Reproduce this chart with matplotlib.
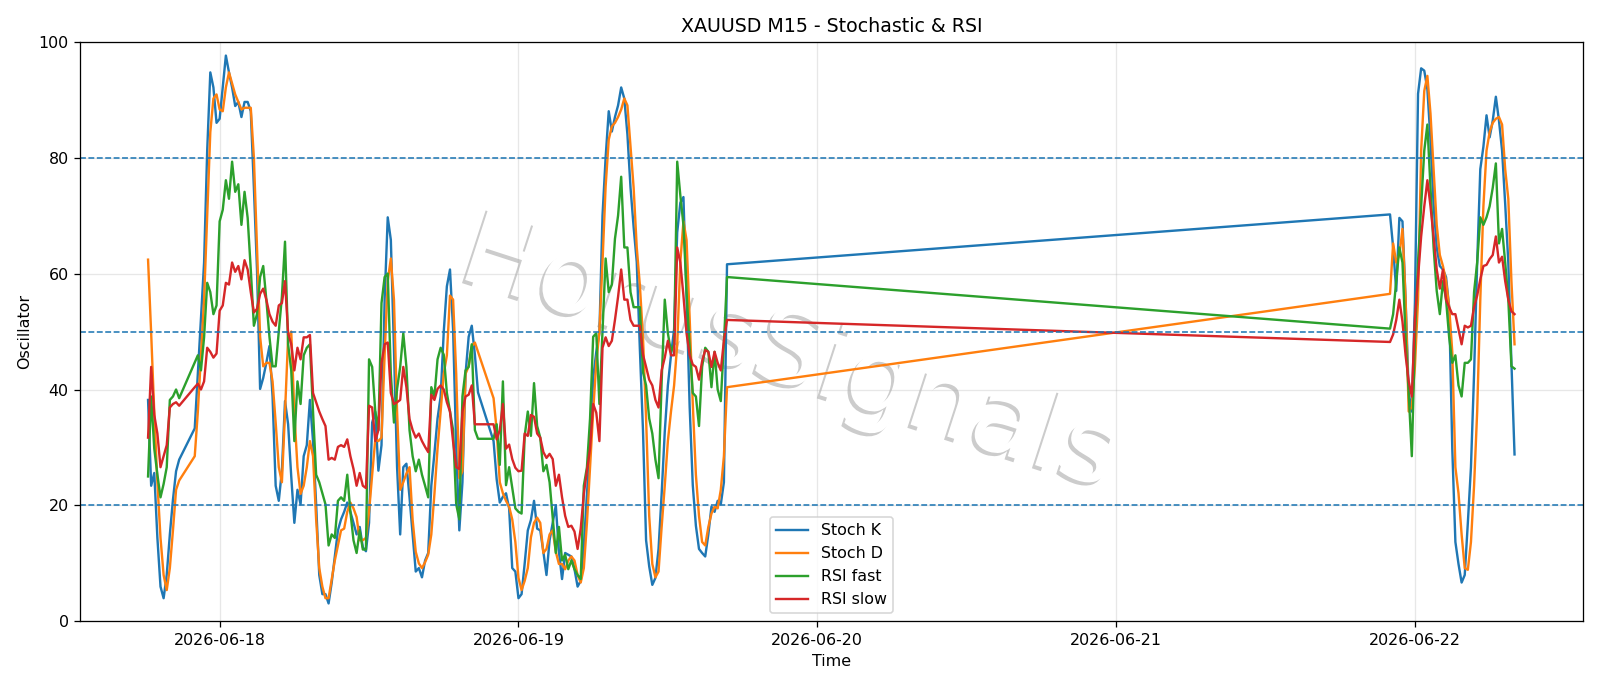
import matplotlib
matplotlib.use("Agg")
import matplotlib.pyplot as plt
import matplotlib.dates as mdates
import matplotlib.patheffects as pe
import pandas as pd

# M15 bars: each trading session is a run of consecutive 15-minute bars
session_starts = ["2026-06-17 18:15", "2026-06-17 22:00", "2026-06-18 22:00", "2026-06-21 22:00"]
session_bars = [11, 92, 76, 41]

stoch_k = [
    38.2, 23.4, 25.6, 14.4, 6, 4, 8, 15, 21, 25.9, 27.9,
    33.3, 42.7, 52.3, 61.9, 81.2, 94.7, 92.1, 86, 86.7, 92.1, 97.6, 94.7, 92.1, 88.9, 89.6, 87,
    89.6, 89.6, 88, 74.8, 60.7, 40.1, 42, 44.6, 47.5, 38.8, 23.4, 20.8, 26, 38, 34, 25,
    17, 22.7, 20.2, 28.5, 30.4, 38.2, 31.1, 20.2, 8, 4.7, 4.7, 3.1, 6.7, 11.2, 15.7, 17.6,
    18.9, 20.5, 18.9, 17, 15, 16.3, 12.8, 12.1, 17, 34.3, 36.2, 26, 30.4, 55.5, 69.7, 65.8,
    47, 26.6, 15, 26.6, 27.2, 21.4, 15, 8.6, 9.2, 7.6, 10.5, 11.8, 23.4, 29, 35, 38.8,
    50, 57.8, 60.7, 50.3, 30, 15.7, 24, 42.7, 49.1, 51, 46, 39.5,
    31.1, 24.5, 20.5, 21.5, 22.1, 19.5, 9.2, 8.6, 4, 4.7, 10, 15.7, 17.5, 20.8, 16, 15.7,
    12, 8, 14, 17, 20, 12, 7.3, 11.8, 11.5, 11.2, 9, 6, 7, 13, 22, 30,
    42, 46.5, 49.7, 70, 80, 88, 84.5, 87, 89, 92.1, 90.2, 84, 74.8, 68, 62, 47,
    33, 14, 9.5, 6.3, 7.5, 12.5, 22, 32.7, 40.7, 45.9, 50.4, 67.1, 72.2, 73.2, 56, 37,
    23.5, 16.5, 12.5, 11.8, 11.2, 15, 19.8, 18.9, 20.8, 20.2, 24, 61.6,
    70.2, 64.5, 57, 69.6, 69, 55.5, 39.4, 36.2, 55, 91, 95.4, 95, 91.8, 83.1, 71.9, 64.5,
    61.3, 60.7, 59.4, 54.2, 29.8, 13.7, 9.9, 6.7, 8, 17, 26.6, 42.7, 61.9, 78, 81.9, 87.3,
    83.5, 86.4, 90.5, 86.4, 81.2, 72, 61.9, 44.6, 28.8,
]
stoch_d = [
    62.4, 49.7, 36, 24, 14.4, 8, 5.4, 9.2, 15.7, 22.7, 24.3,
    28.5, 36.2, 45.9, 55.5, 69.7, 84.4, 90.2, 90.9, 88.3, 88, 92.1, 94.7, 92.8, 90.9, 89.6, 88.3,
    88.6, 88.6, 88.6, 80, 64.5, 49.1, 44, 44.6, 44.6, 41.4, 34.3, 26.6, 24, 36, 49, 50,
    36, 26.6, 22, 23.4, 26.6, 31.1, 28.5, 17.6, 9.2, 6, 4, 4, 7.3, 10.5, 13.1, 15.7,
    16, 18.9, 20.5, 19.5, 18, 14, 14, 14.4, 18.9, 25.3, 31.4, 31.1, 31.7, 45.9, 58.7, 62.6,
    55.5, 36.2, 22.7, 24, 25.5, 26.6, 17.5, 12, 10, 9.2, 10.2, 11.5, 15, 22, 29.8, 36.2,
    42.7, 45.9, 56.2, 55.5, 42.7, 24.7, 25.9, 42.7, 44, 47.5, 48.1, 46.5,
    38.5, 33, 24, 22.1, 20.8, 19.8, 17.6, 13.7, 7.5, 5.4, 7, 9.2, 14.5, 17, 17.9, 17,
    11.8, 12.5, 15, 15.7, 12, 9.9, 9.9, 9, 10.5, 11.2, 10.5, 8, 6.7, 9.2, 17, 26.6,
    36.2, 44.6, 50, 62, 75, 83.1, 85.4, 86, 87, 88.3, 90.2, 89, 82, 74.8, 64.5, 58,
    49, 35, 18.2, 9.9, 7.6, 8.6, 16.3, 23.4, 31.1, 36.2, 40.7, 47.8, 62, 69, 65.8, 52.3,
    37.5, 25.3, 18.2, 13.7, 13.1, 16.3, 18.6, 19.8, 19.5, 22.7, 28.5, 40.4,
    56.5, 65.2, 61.9, 63.2, 67.7, 55.5, 36.2, 37, 44, 55.5, 81.2, 91.5, 94.1, 87.6, 78, 68.4,
    63.2, 61.3, 58.7, 54.2, 46.5, 26.6, 22.1, 15, 9.2, 8.9, 13.7, 23.4, 36.2, 55.5, 71.6, 81.2,
    84.4, 86, 86.7, 87, 85.7, 78, 72.9, 58.7, 47.8,
]
rsi_fast = [
    25, 38.8, 29.8, 25.3, 21.4, 23.7, 26.6, 38.2, 38.8, 40, 38.5,
    44.7, 45.9, 43.3, 49, 58.4, 56.8, 53, 54.5, 69, 71, 76.1, 72.9, 79.3, 74.1, 75.4, 68.4,
    74.1, 69.6, 60.7, 51, 53, 59.4, 61.3, 55.5, 49.1, 44, 44, 50, 56, 65.5, 47.8, 43.3,
    31.1, 41.4, 37.5, 45.9, 47.2, 47.8, 36.2, 25.3, 24, 22.1, 20.2, 13.1, 15, 14.4, 20.8, 21.4,
    20.8, 25.3, 18.9, 14, 11.8, 15.7, 12.4, 12.4, 45.2, 43.9, 36.2, 33, 54.9, 59.4, 60, 42.7,
    34.3, 40.1, 43.9, 49.7, 43.9, 33, 28.5, 25.9, 27.9, 25.3, 23.4, 21.4, 40.4, 38.8, 45.2, 47.2,
    46, 39.4, 36.2, 33, 20.2, 17.6, 38.8, 43.3, 43.9, 47.8, 33, 31.5,
    31.5, 34, 27, 41.4, 23.5, 26.6, 23, 19.5, 18.9, 18.6, 32, 36.2, 32, 41.1, 33.7, 31.7,
    25.9, 27, 24, 18, 11.8, 16.3, 10.5, 11.5, 9, 10.5, 9, 8, 7.3, 23.4, 26.6, 35,
    49.1, 49.7, 37.5, 50, 62.6, 56.8, 58.1, 66, 70, 76.7, 64.5, 64.5, 56.8, 54.2, 54.2, 54.2,
    43, 40.7, 35, 32.4, 27.9, 24.7, 41.4, 55.5, 49.7, 46.5, 47.8, 79.3, 73.5, 68.4, 56.8, 47.2,
    39.4, 38.8, 33.7, 43.9, 47.2, 46.5, 40.4, 46.5, 40, 38, 48, 59.4,
    50.5, 53, 58.7, 64.5, 61.9, 49, 39.4, 28.5, 49.1, 62, 71.6, 81.2, 85.7, 74.8, 64.5, 57,
    53, 58.7, 55.5, 49, 44.6, 45.9, 40.7, 38.8, 44.6, 44.6, 45.2, 56.8, 61.9, 69.7, 68.4, 69.7,
    71.6, 74.8, 79, 65.2, 67.7, 61.9, 55.5, 44, 43.6,
]
rsi_slow = [
    31.7, 43.9, 35.6, 32.4, 26.6, 28.5, 30.4, 36.9, 37.5, 37.8, 37.2,
    40.4, 41, 40, 41.4, 47.2, 46.5, 45.5, 46.2, 53.6, 54.5, 58.4, 58.1, 61.9, 60.3, 61.3, 59,
    62.3, 60.7, 56.8, 53.3, 53.9, 56.5, 57.4, 55.5, 53, 51.7, 51, 54.5, 54.9, 58.7, 49.7, 47.8,
    43.3, 47.2, 45.2, 49, 49, 49.4, 39.4, 37.8, 36.2, 34.9, 33.7, 27.9, 28.2, 27.9, 30.1, 30.4,
    30.1, 31.4, 28.5, 26.3, 23.4, 25.6, 23.4, 23, 37.2, 36.9, 31.1, 33, 44.6, 47.8, 48.1, 39.4,
    37.5, 37.8, 38.2, 43.9, 40.4, 34.9, 33, 31.7, 32.4, 31.1, 30.1, 29.2, 39.1, 38.2, 40.1, 40.7,
    40, 37.8, 36.2, 31, 26.6, 26.3, 36.2, 38.8, 39.1, 40.7, 34, 34,
    34, 31.4, 33, 37.5, 29.8, 30.5, 28, 26.5, 25.9, 26, 32.4, 32, 35.6, 35.3, 32.4, 31.7,
    29.2, 28.2, 28.9, 28, 23.4, 25.3, 21.4, 18.2, 16.3, 16.5, 15.5, 12.5, 16, 22, 26, 29.8,
    37.5, 36, 31.1, 47.2, 49, 47.5, 48.4, 52, 56, 60.7, 55.5, 55.5, 52, 51, 51, 51,
    46, 43.9, 41.7, 40.7, 38.2, 36.9, 43.3, 45.5, 48.4, 45.9, 45.9, 64.5, 61.9, 56.2, 49.7, 45.9,
    44.3, 43.9, 41.7, 44.9, 46.8, 46.5, 43.9, 46.5, 44.6, 43.3, 48.4, 52,
    48.2, 49.5, 52, 55.5, 51.7, 45.9, 41.4, 38.8, 52.3, 59.4, 66.4, 71.6, 76.1, 71.6, 66.4, 60.7,
    57.4, 60.7, 55.5, 54.2, 53, 53, 50.4, 47.8, 51, 50.7, 51, 54.2, 56.2, 59, 61.3, 61.5,
    62.5, 63.2, 66.4, 61.9, 62.9, 58.7, 55.5, 53.5, 53,
]

levels = [20, 50, 80]

times = pd.DatetimeIndex([])
for start, n in zip(session_starts, session_bars):
    times = times.append(pd.date_range(start, periods=n, freq="15min"))

fig, ax = plt.subplots(figsize=(14, 6.0025), dpi=1600 / 14)

ax.plot(times, stoch_k, label="Stoch K", linewidth=1.5)
ax.plot(times, stoch_d, label="Stoch D", linewidth=1.5)
ax.plot(times, rsi_fast, label="RSI fast", linewidth=1.5)
ax.plot(times, rsi_slow, label="RSI slow", linewidth=1.5)
for lv in levels:
    ax.axhline(lv, linestyle="--", linewidth=1)

# watermark: white letters with a soft grey drop shadow
ax.text(0.472, 0.46, "HorusSignals", transform=ax.transAxes, fontsize=66,
        color="white", rotation=-18, ha="center", va="center", zorder=1,
        path_effects=[pe.withSimplePatchShadow(offset=(-2, -2), shadow_rgbFace="#808080", alpha=0.4)])

ax.set_ylim(0, 100)
ax.xaxis.set_major_locator(mdates.DayLocator())
ax.xaxis.set_major_formatter(mdates.DateFormatter("%Y-%m-%d"))
ax.grid(True, alpha=0.3)
ax.set_title("XAUUSD M15 - Stochastic & RSI")
ax.set_xlabel("Time")
ax.set_ylabel("Oscillator")
ax.legend(loc="lower center")

fig.tight_layout()
fig.savefig("out.png")
